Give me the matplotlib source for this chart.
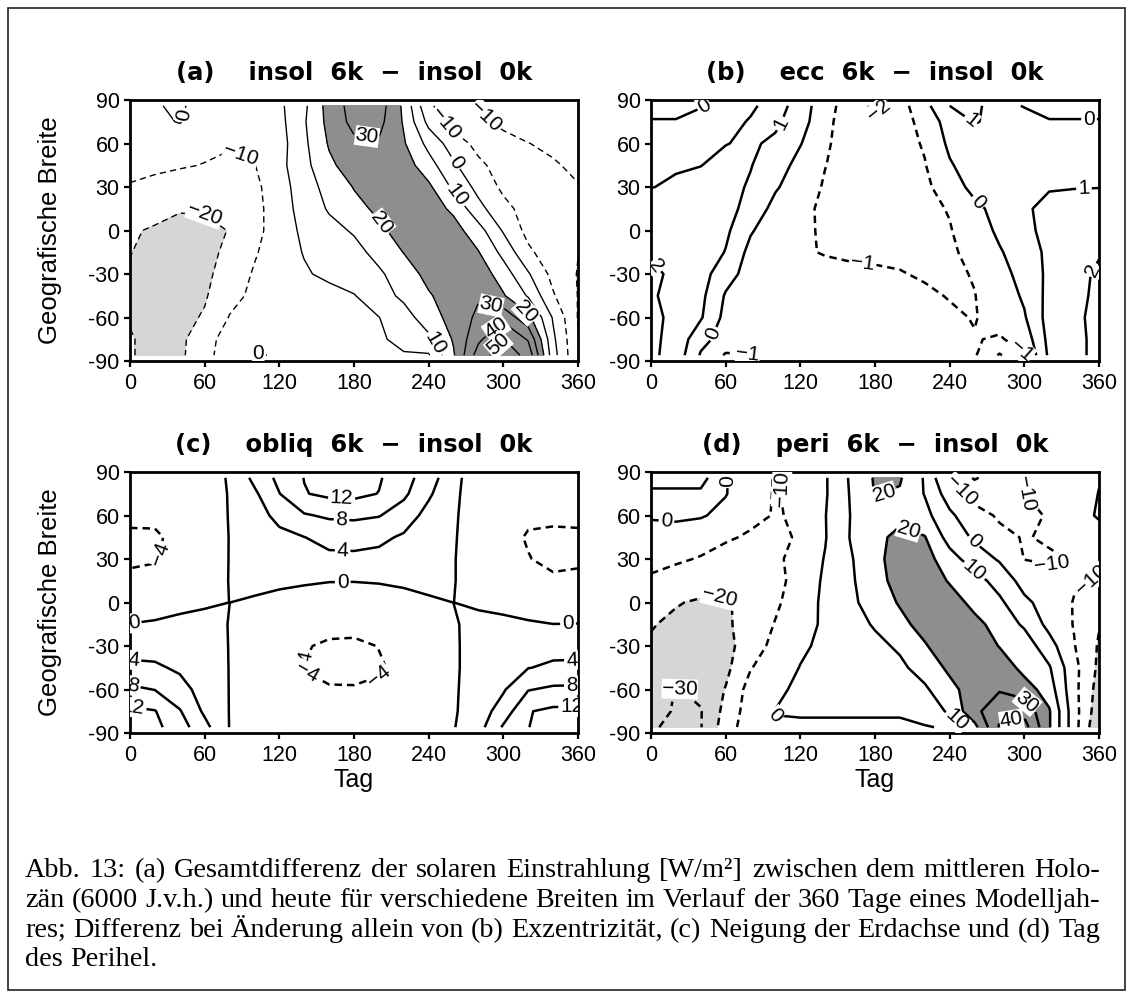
import numpy as np
import matplotlib
matplotlib.use("Agg")
import matplotlib.pyplot as plt
from matplotlib import font_manager
from matplotlib.patches import Rectangle

# ---------------- data ----------------
days = [0, 20, 40, 60, 80, 100, 120, 140, 160, 180, 200, 220, 240, 260, 280, 300, 320, 340, 360]
lats_n2s = [86, 75, 60, 45, 30, 15, 0, -15, -30, -45, -60, -75, -86]

# (a) insol 6k - insol 0k   [W/m2], rows north -> south
insol_a = [
    [-0.5, -0.5, 1, -3, -5, -6, -2, 8, 24, 34, 35, 18, -9, -14, -9.5, -4, -2, -1, -0.5],
    [-3, -2, 0.5, -4, -6, -7, -3, 9, 23, 33, 33, 19, -3, -14, -12, -8, -5, -4, -3],
    [-6, -5, -6, -8, -9.5, -9, -4, 8, 21, 28, 29, 21, 7, -5, -13, -13, -10.2, -8, -6],
    [-8, -8.5, -9.2, -10.3, -11, -10.3, -3, 7, 18, 25, 27, 25, 14, 1.5, -8, -14, -14, -11, -8],
    [-10.5, -12, -14, -15, -14, -12, -5, 6, 13, 20.5, 24, 25, 22, 8, -3, -12, -14, -12.5, -10.5],
    [-13, -17, -19.5, -19.5, -17, -13, -5, 4, 11, 17, 22, 25, 25, 18, 3, -7, -14, -15, -13],
    [-19, -21, -22, -21.5, -19.8, -13, -5, 2, 7, 11, 18, 24, 27, 24, 14, -1, -13, -18, -19],
    [-19.8, -22, -23, -22, -18.5, -11, -4.5, 0.5, 4, 7, 13, 20.3, 26, 28, 20.5, 7, -8, -16, -19.8],
    [-20.5, -23, -24, -22, -16, -9, -5, -1, 2, 5, 8.5, 15, 23, 28, 26, 15, 1, -13, -20.5],
    [-20.3, -23.5, -24, -21, -13, -8, -6, -4.5, -3, -0.5, 6, 12, 19, 25, 29, 21, 9, -9, -20.3],
    [-20.5, -22.5, -23, -19, -9.5, -6, -4.5, -3.5, -2.5, -1.5, -0.2, 6, 15, 24, 32, 37, 23, -1, -20.5],
    [-19.5, -22, -22, -14.5, -5, -2, -0.8, -0.5, -0.5, -0.5, -0.5, 1, 8, 21, 38, 50.5, 39, 2, -19.5],
    [-19.5, -22, -22, -13, -5, 0.3, -0.3, -0.3, -0.3, -0.3, -0.3, -0.3, -1, 19, 45, 56, 47, 4, -19.5],
]

# (b) ecc 6k - insol 0k
ecc_b = [
    [-0.05, -0.05, -0.05, 0.3, 0.8, 1.5, 0.5, -0.6, -1.5, -2.2, -1.4, -0.3, 1, 1.3, 0.3, -0.05, -0.05, -0.05, -0.05],
    [0.01, 0.01, 0.3, 0.6, 1.1, 1.2, 0.4, -0.7, -1.6, -1.9, -1.5, -0.6, 0.4, 1.05, 0.8, 0.4, 0.01, 0.01, 0.01],
    [0.6, 0.7, 0.8, 0.97, 1.15, 0.8, 0.05, -0.85, -1.5, -1.7, -1.4, -0.9, 0.2, 0.6, 0.7, 0.7, 0.6, 0.6, 0.6],
    [0.8, 0.9, 0.98, 1.3, 1.04, 0.5, -0.35, -0.98, -1.4, -1.5, -1.35, -1.05, -0.1, 0.5, 0.75, 0.85, 0.85, 0.8, 0.8],
    [0.97, 1.15, 1.35, 1.3, 0.9, 0.1, -0.5, -1.1, -1.3, -1.4, -1.3, -1.2, -0.5, 0.3, 0.6, 0.8, 0.92, 0.95, 0.97],
    [1.6, 1.8, 1.8, 1.4, 0.6, -0.3, -0.8, -1.15, -1.3, -1.35, -1.3, -1.2, -0.95, -0.25, 0.35, 0.85, 1.3, 1.5, 1.6],
    [1.9, 1.95, 1.8, 1.2, 0.1, -0.6, -0.85, -1.1, -1.25, -1.3, -1.3, -1.2, -1.05, -0.55, 0.2, 0.75, 1.3, 1.7, 1.9],
    [1.95, 1.95, 1.7, 0.95, -0.3, -0.75, -0.9, -1.05, -1.15, -1.2, -1.2, -1.15, -1.08, -0.85, -0.1, 0.55, 1.2, 1.7, 1.95],
    [2.1, 1.9, 1.4, 0.4, -0.4, -0.6, -0.7, -0.75, -0.8, -0.85, -0.95, -1.1, -1.15, -0.95, -0.4, 0.4, 1.2, 1.8, 2.1],
    [2.15, 1.6, 1.25, -0.1, -0.5, -0.55, -0.6, -0.6, -0.65, -0.7, -0.75, -0.85, -1.05, -1.02, -0.6, 0.15, 1.3, 1.8, 2.15],
    [2.2, 1.8, 1.1, -0.3, -0.55, -0.5, -0.5, -0.5, -0.5, -0.55, -0.6, -0.7, -0.85, -1.05, -0.65, -0.1, 1.4, 1.85, 2.2],
    [2.2, 1.7, 0.3, -0.4, -0.5, -0.4, -0.35, -0.35, -0.4, -0.45, -0.5, -0.6, -0.75, -0.95, -1.1, -0.6, 1.3, 1.8, 2.2],
    [2.2, 1.6, -0.1, -1.1, -1.05, -0.5, -0.2, -0.1, -0.1, -0.1, -0.1, -0.2, -0.5, -0.9, -2.1, -1.1, 1.2, 1.8, 2.2],
]

# (c) obliq 6k - insol 0k
obliq_c = [
    [-0.5, -0.5, -0.8, -1.5, 0.3, 5, 9, 12.1, 13.8, 14, 12.4, 9.5, 6, 1, -2, -1, -0.6, -0.5, -0.5],
    [-1.2, -1.5, -1.8, -1.8, 0.2, 3.3, 7.9, 11.8, 12.8, 13, 11.9, 8.8, 4.6, 0.8, -2.2, -2, -1.6, -1.3, -1.2],
    [-3.6, -3.7, -3.2, -2.5, 0.2, 2.5, 5, 7.6, 8.6, 8.8, 8.2, 6, 2.7, 0.6, -2.5, -3.3, -3.8, -3.7, -3.6],
    [-4.3, -4.2, -3.6, -2.5, 0.1, 1.6, 3.1, 3.95, 5, 5.2, 4.8, 3.5, 2, 0.4, -2.5, -3.6, -4.1, -4.3, -4.3],
    [-4.3, -4.1, -3.4, -2.2, 0.1, 1.4, 2.3, 2.9, 3.3, 3.3, 3, 2.3, 1.4, 0.2, -2.1, -3.3, -3.95, -4.3, -4.3],
    [-3.6, -3.6, -2.8, -1.7, 0.1, 0.9, 0.6, 0.35, 0.1, 0.08, 0.2, 0.5, 0.9, 0.15, -1.6, -2.6, -3.2, -3.8, -3.6],
    [-1.4, -1.3, -0.9, -0.45, 0.01, -0.4, -0.9, -1.3, -1.45, -1.45, -1.3, -1.0, -0.45, 0.01, -0.55, -0.9, -1.3, -1.5, -1.4],
    [0.05, 0.3, 0.8, 1.1, -0.1, -1.5, -2.4, -3.0, -3.35, -3.35, -3.1, -2.6, -1.7, -0.3, 1.0, 0.7, 0.3, 0.02, 0.05],
    [2.8, 2.7, 2.3, 1.6, -0.1, -2.2, -3.3, -3.85, -4.3, -4.4, -3.95, -3.3, -2.3, -0.5, 1.5, 2.2, 2.6, 2.8, 2.8],
    [4.7, 4.5, 3.5, 2.2, -0.1, -2.5, -3.6, -4.05, -4.5, -4.6, -4.2, -3.5, -2.5, -0.6, 1.8, 3.0, 3.9, 4.6, 4.7],
    [8.8, 7.9, 5.2, 2.7, -0.1, -2.3, -3.3, -3.7, -3.85, -3.85, -3.7, -3.2, -2.3, -0.6, 2.3, 3.6, 7.8, 8.7, 8.8],
    [12.8, 12.2, 8.3, 3.3, -0.1, -1.8, -2.5, -2.8, -2.9, -2.9, -2.8, -2.5, -1.8, -0.4, 2.0, 5.8, 11.8, 12.8, 12.8],
    [14.3, 13, 9.8, 5.2, -0.1, -0.8, -1, -1, -1, -1, -1, -1, -0.8, -0.2, 2.5, 8.5, 11.9, 14, 14.3],
]

# (d) peri 6k - insol 0k
peri_d = [
    [-0.2, -0.2, -0.2, 0.5, -6, -10.5, -9, -1, 11, 21, 21, 9, -12, -21, -15, -11, -7, -3, -0.2],
    [0.1, 0.1, 0.1, 0.5, -7, -10.5, -8, -1, 10.5, 20.5, 19, 9.5, -5, -13, -12, -10.2, -6, -2, 0.1],
    [1, 2, 1, -3, -8, -10.5, -9, -0.3, 10, 16, 18, 13, 2, -7, -11, -11.5, -9.5, -4, 1],
    [-4, -5, -7, -9, -11, -11, -9.5, -0.5, 10.3, 18, 22, 20.5, 6, -1.5, -8, -10.5, -9, -6, -4],
    [-9, -9, -10.5, -13, -14, -12, -6, 0.5, 9, 17, 25, 24, 14, 5, -1, -10.2, -11, -9.5, -9],
    [-10.5, -13, -16, -17, -16.5, -13, -6, 1.5, 8.5, 16, 24, 27, 19, 14, 6, -3.5, -7, -9, -10.5],
    [-17, -19.5, -21, -21, -17, -11.5, -5, 2, 8, 14, 21, 27, 25, 17, 12, 2, -4, -10.5, -17],
    [-19.5, -21.5, -22.5, -21.5, -16, -9.5, -3.5, 1.5, 6, 11, 17, 24, 28, 23, 16, 8.5, -3, -10.5, -19.5],
    [-21, -24, -25, -23, -15, -7, -1.5, 2, 4.5, 7.5, 11.5, 19, 27, 28, 19.5, 15.5, 4, -9.5, -21],
    [-22, -25, -26, -22.5, -10.5, -4.5, 0.3, 2, 3.5, 5, 8, 14, 22, 28, 27, 16.5, 11, -7, -22],
    [-24, -30.5, -28, -19.5, -6, -1, 1, 1.5, 2.5, 4, 6, 8.5, 17, 25, 29, 25, 15, -7, -24],
    [-26, -31, -30.5, -17, -5, 0.1, 0.2, 0.2, 0.2, 0.2, 0.2, 2, 12, 27, 38, 37, 21, -6, -26],
    [-29, -32, -30.5, -15, -4, -0.3, -0.3, -0.3, -0.3, -0.3, -0.3, -0.3, 0.5, 17, 41, 44, 21, -6, -29],
]

levels_a = [-20, -10, 0, 10, 20, 30, 40, 50]
levels_b = [-2, -1, 0, 1, 2]
levels_c = [-4, 0, 4, 8, 12]
levels_d = [-30, -20, -10, 0, 10, 20, 30, 40]

titles = ["(a)    insol  6k  \u2212  insol  0k",
          "(b)    ecc  6k  \u2212  insol  0k",
          "(c)    obliq  6k  \u2212  insol  0k",
          "(d)    peri  6k  \u2212  insol  0k"]

xticks = [0, 60, 120, 180, 240, 300, 360]
yticks = [-90, -60, -30, 0, 30, 60, 90]

caption_lines = [
    "Abb. 13: (a) Gesamtdifferenz der solaren Einstrahlung [W/m\u00b2] zwischen dem mittleren Holo-",
    "z\u00e4n (6000 J.v.h.) und heute f\u00fcr verschiedene Breiten im Verlauf der 360 Tage eines Modelljah-",
    "res; Differenz bei \u00c4nderung allein von (b) Exzentrizit\u00e4t, (c) Neigung der Erdachse und (d) Tag",
    "des Perihel.",
]

# ---------------- layout / style ----------------
plt.rcParams['font.family'] = ['Liberation Sans', 'DejaVu Sans']
W, H = 1133, 996
fig = plt.figure(figsize=(W / 100, H / 100), dpi=100)
fig.patch.set_facecolor('white')

avail = {f.name for f in font_manager.fontManager.ttflist}
xtick_family = 'Liberation Sans Narrow' if 'Liberation Sans Narrow' in avail else 'Liberation Sans'
xtick_size = 17 if xtick_family == 'Liberation Sans Narrow' else 15.5

AX_W, AX_H = 448, 261
panel_px = [(130, 100), (651, 100), (130, 472), (651, 472)]

LIGHT = '#d6d6d6'
DARK = '#8e8e8e'


def frac_rect(x, y_top, w, h):
    return [x / W, 1 - (y_top + h) / H, w / W, h / H]


def fmt(v):
    s = "%d" % round(v)
    return s.replace('-', '\u2212')


label_pos = [
    [(40, 80), (92, 58), (60, 12), (190, 62), (200, 4), (262, 47), (262, 24),
     (255, 75), (288, 80), (290, -52), (318, -56), (296, -69), (300, -81), (247, -77), (103, -85)],
    [(58, 84), (108, 72), (180, 84), (259, 78), (352, 76), (348, 27), (263, 20),
     (170, -23), (46, -70), (78, -82), (300, -80), (3, -25), (357, -28)],
    [(170, 71), (170, 57), (171, 38), (171, 14), (3, -14), (352, -15), (20, 34),
     (143, -42), (136, -57), (210, -57), (3, -38), (355, -37), (3, -55), (355, -55),
     (3, -69), (355, -69)],
    [(66, 84), (12, 52), (120, 76), (193, 66), (207, 50), (250, 78), (285, 77),
     (262, 44), (262, 24), (320, 31), (352, 17), (55, 3), (25, -56), (92, -84),
     (248, -79), (300, -70), (290, -83)],
]

fields = [insol_a, ecc_b, obliq_c, peri_d]
levels_all = [levels_a, levels_b, levels_c, levels_d]
linew = [1.0, 1.8, 1.8, 1.8]
dash = [(0, (4.5, 3)), (0, (3, 2)), (0, (3, 2)), (0, (3, 2))]
shaded = [True, False, False, True]

X = np.array(days, dtype=float)
Y = np.array(lats_n2s[::-1], dtype=float)

axes = []
for i in range(4):
    px, py = panel_px[i]
    ax = fig.add_axes(frac_rect(px, py, AX_W, AX_H))
    axes.append(ax)
    Z = np.array(fields[i], dtype=float)[::-1]
    if shaded[i]:
        ax.contourf(X, Y, Z, levels=[-1000, -20], colors=[LIGHT], zorder=1)
        ax.contourf(X, Y, Z, levels=[20, 1000], colors=[DARK], zorder=1)
    cs = ax.contour(X, Y, Z, levels=levels_all[i], colors='k', linewidths=linew[i],
                    negative_linestyles=dash[i], zorder=2)
    labs = ax.clabel(cs, fmt=fmt, fontsize=15, inline=True, inline_spacing=2,
                     manual=label_pos[i])
    for t in labs:
        t.set_bbox(dict(facecolor='white', edgecolor='none', pad=0.3))
        t.set_zorder(3)
    ax.set_xlim(0, 360)
    ax.set_ylim(-90, 90)
    ax.set_xticks(xticks)
    ax.set_xticklabels([str(v) for v in xticks], family=xtick_family, fontsize=xtick_size)
    ax.set_yticks(yticks)
    ax.set_yticklabels([str(v) for v in yticks], fontsize=15.5)
    ax.tick_params(axis='x', direction='out', length=4.5, width=1.6, pad=4)
    ax.tick_params(axis='y', direction='out', length=4.5, width=1.6, pad=3)
    for s in ax.spines.values():
        s.set_linewidth(2.0)
    # panel title
    fig.text((px + AX_W / 2) / W, 1 - (py - 20) / H, titles[i], ha='center', va='baseline',
             family='DejaVu Sans', weight='bold', fontsize=17.5)
    if i in (0, 2):
        fig.text(50 / W, 1 - (py + AX_H / 2) / H, "Geografische Breite", rotation=90,
                 ha='center', va='center', fontsize=18.5)
    if i in (2, 3):
        fig.text((px + AX_W / 2) / W, 1 - 787 / H, "Tag", ha='center', va='baseline',
                 fontsize=18)

# ---------------- caption (justified, word by word) ----------------
renderer = fig.canvas.get_renderer()
SERIF = 'Liberation Serif'
x0, x1 = 25, 1100
base_y = [877, 907, 937, 966]

probe = fig.text(0, 0, caption_lines[0], family=SERIF, fontsize=18)
w0 = probe.get_window_extent(renderer).width
probe.remove()
cap_fs = 18 * (x1 - x0) / w0 * 0.985


def word_width(w):
    t = fig.text(0, 0, w, family=SERIF, fontsize=cap_fs)
    ww = t.get_window_extent(renderer).width
    t.remove()
    return ww


space_w = word_width("a b") - word_width("ab")
for k, line in enumerate(caption_lines):
    words = line.split(' ')
    widths = [word_width(w) for w in words]
    if k < 3:
        gap = (x1 - x0 - sum(widths)) / (len(words) - 1)
    else:
        gap = space_w
    x = x0
    for w, ww in zip(words, widths):
        fig.text(x / W, 1 - base_y[k] / H, w, family=SERIF, fontsize=cap_fs,
                 ha='left', va='baseline')
        x += ww + gap

# outer frame
fig.patches.append(Rectangle((8 / W, 1 - 990 / H), (1125 - 8) / W, (990 - 8) / H,
                             transform=fig.transFigure, fill=False,
                             edgecolor='#222222', linewidth=1.2))

fig.savefig("out.png", dpi=100)
